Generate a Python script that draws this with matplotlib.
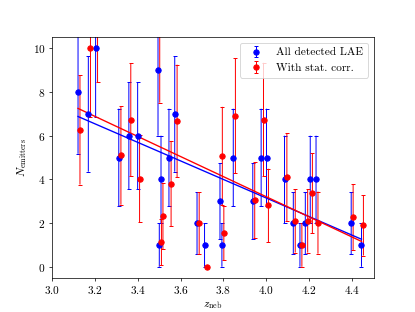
import numpy as np
import matplotlib
matplotlib.use("Agg")
import matplotlib.pyplot as plt

plt.rcParams['font.family'] = 'serif'
plt.rcParams['font.serif'] = ['cmr10']
plt.rcParams['mathtext.fontset'] = 'cm'
plt.rcParams['axes.formatter.use_mathtext'] = True
plt.rcParams['font.size'] = 12.5

# --------------- data ---------------
z_all = [3.122, 3.170, 3.204, 3.312, 3.359, 3.400, 3.495, 3.501, 3.509,
         3.546, 3.573, 3.677, 3.712, 3.784, 3.793, 3.846, 3.937, 3.976,
         4.001, 4.085, 4.126, 4.157, 4.182, 4.205, 4.232, 4.396, 4.444]
n_all = [8, 7, 10, 5, 6, 6, 9, 1, 4,
         5, 7, 2, 1, 3, 1, 5, 3, 5,
         5, 4, 2, 1, 2, 4, 4, 2, 1]

z_corr = [3.131, 3.180, 3.213, 3.322, 3.368, 3.409, 3.503, 3.511, 3.518,
          3.556, 3.584, 3.687, 3.723, 3.795, 3.802, 3.856, 3.946, 3.987,
          4.010, 4.096, 4.135, 4.166, 4.193, 4.215, 4.241, 4.405, 4.453]
n_corr = [6.27, 10.0, 11.9, 5.10, 6.73, 4.04, 10.8, 1.13, 2.32,
          3.81, 6.67, 2.0, 0.0, 5.07, 1.53, 6.91, 3.05, 6.74,
          2.81, 4.10, 2.10, 1.0, 2.10, 3.36, 2.02, 2.28, 1.89]

# linear fits (end points)
fit_z = [3.122, 4.444]
fit_all = [6.88, 1.26]
fit_corr = [7.25, 1.16]

# Poisson errors
err_all = np.sqrt(n_all)
err_corr = np.sqrt(n_corr)

fig, ax = plt.subplots(figsize=(415/65, 312/65), dpi=65)

eb1 = ax.errorbar(z_all, n_all, yerr=err_all, fmt='o', color='b', ecolor='b',
                  capsize=2, elinewidth=1.1, capthick=1.1, label='All detected LAE')
eb2 = ax.errorbar(z_corr, n_corr, yerr=err_corr, fmt='o', color='r', ecolor='r',
                  capsize=2, elinewidth=1.1, capthick=1.1, label='With stat. corr.')
for eb in (eb1, eb2):
    for col in eb[2]:
        col.set_snap(False)
ax.plot(fit_z, fit_all, 'b-')
ax.plot(fit_z, fit_corr, 'r-')

ax.set_xlim(3.0, 4.5)
ax.set_ylim(-0.5, 10.5)
ax.set_xticks(np.arange(3.0, 4.41, 0.2))
ax.set_xlabel(r'$z_{\rm neb}$')
ax.set_ylabel(r'$N_{\rm emitters}$')
ax.legend(loc='upper right')

plt.savefig('out.png')
